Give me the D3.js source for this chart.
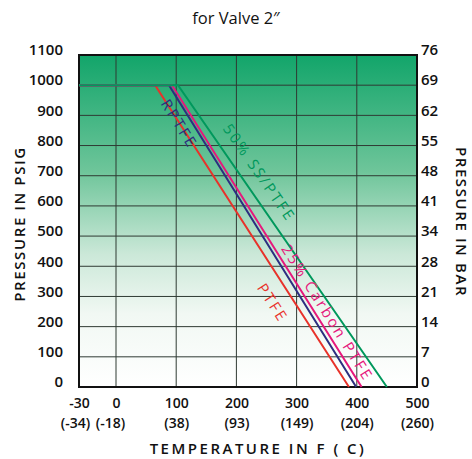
<!DOCTYPE html>
<html>
<head>
<meta charset="utf-8">
<script src="https://cdn.jsdelivr.net/npm/d3@7"></script>
<style>
  body { margin: 0; background: #fff; }
  svg { display: block; font-family: "Open Sans", sans-serif; }
</style>
</head>
<body>
<svg id="chart" width="472" height="459"></svg>
<script>
// temperature ticks (F) and their celsius labels
const tempTicks = [-30, 0, 100, 200, 300, 400, 500];
const celsiusLabels = ["(-34)", "(-18)", "(38)", "(93)", "(149)", "(204)", "(260)"];

// pressure ticks (psig) and matching bar labels
const psigTicks = [0, 100, 200, 300, 400, 500, 600, 700, 800, 900, 1000, 1100];
const barLabels = ["0", "7", "14", "21", "28", "34", "41", "48", "55", "62", "69", "76"];

// seat ratings: [temperature F, pressure psig]
const ptfe = [[-30, 1000], [65, 1000], [387, 0]];
const rptfe = [[-30, 1000], [88, 1000], [399, 0]];
const carbonPtfe = [[-30, 1000], [93, 1000], [408, 0]];
const ssPtfe = [[-30, 1000], [103, 1000], [450, 0]];

// series names and where their labels sit (temperature, pressure)
const seriesNames = ["PTFE", "RPTFE", "25% Carbon PTFE", "50% SS/PTFE"];
const labelAt = [[261, 280], [106, 873], [352, 247], [239, 711]];

const svg = d3.select("#chart");
const W = 472, H = 459;
const margin = { top: 55, right: 55, bottom: 72, left: 79 };

// x is piecewise: the -30 column is squeezed
const x = d3.scaleLinear().domain([-30, 0, 500]).range([margin.left, 116, W - margin.right]);
const y = d3.scaleLinear().domain([0, 1100]).range([H - margin.bottom, margin.top]);
// the printed pressure labels sit a few pixels above their grid lines
const yLab = d3.scaleLinear().domain([0, 1100]).range([382, 50]);

// background gradient
const grad = svg.append("defs").append("linearGradient")
  .attr("id", "bg").attr("x1", 0).attr("y1", 0).attr("x2", 0).attr("y2", 1);
grad.append("stop").attr("offset", "0%").attr("stop-color", "#12a56a");
grad.append("stop").attr("offset", "35%").attr("stop-color", "#6ec59a");
grad.append("stop").attr("offset", "60%").attr("stop-color", "#cbe8d8");
grad.append("stop").attr("offset", "78%").attr("stop-color", "#f1f8f3");
grad.append("stop").attr("offset", "100%").attr("stop-color", "#ffffff");

svg.append("rect")
  .attr("x", x(-30)).attr("y", y(1100))
  .attr("width", x(500) - x(-30)).attr("height", y(0) - y(1100))
  .attr("fill", "url(#bg)");

// grid
const grid = svg.append("g").attr("stroke", "#2f3a33").attr("stroke-width", 1);
grid.selectAll(".h").data(psigTicks.slice(1, -1)).enter().append("line")
  .attr("x1", x(-30)).attr("x2", x(500))
  .attr("y1", d => y(d)).attr("y2", d => y(d));
grid.selectAll(".v").data(tempTicks.slice(1, -1)).enter().append("line")
  .attr("y1", y(0)).attr("y2", y(1100))
  .attr("x1", d => x(d)).attr("x2", d => x(d));

// frame
svg.append("rect")
  .attr("x", x(-30)).attr("y", y(1100))
  .attr("width", x(500) - x(-30)).attr("height", y(0) - y(1100))
  .attr("fill", "none").attr("stroke", "#111").attr("stroke-width", 2);

// lines
const colors = ["#e8322a", "#2c2f80", "#e6187c", "#00985c"];
const series = [ptfe, rptfe, carbonPtfe, ssPtfe];
const line = d3.line().x(d => x(d[0])).y(d => y(d[1]));
svg.append("g").selectAll("path").data(series).enter().append("path")
  .attr("d", line).attr("fill", "none")
  .attr("stroke", (d, i) => colors[i]).attr("stroke-width", 2);

// labels rotated along each line's slope
seriesNames.forEach((name, i) => {
  const s = series[i];
  const ang = Math.atan2(y(s[2][1]) - y(s[1][1]), x(s[2][0]) - x(s[1][0])) * 180 / Math.PI;
  const px = x(labelAt[i][0]), py = y(labelAt[i][1]);
  svg.append("text")
    .attr("transform", `translate(${px},${py}) rotate(${ang})`)
    .attr("text-anchor", "middle").attr("dominant-baseline", "central")
    .attr("fill", colors[i]).attr("font-size", 15).attr("letter-spacing", 2.4)
    .text(name);
});

const tickFont = sel => sel.attr("font-size", 15).attr("font-weight", 600)
  .attr("font-family", "Open Sans, sans-serif").attr("fill", "#111");

// left axis
const yAxis = svg.append("g").attr("transform", `translate(${x(-30) - 10},0)`)
  .call(d3.axisLeft(yLab).tickValues(psigTicks).tickSize(0).tickPadding(6)
    .tickFormat(d => String(d)));
yAxis.select(".domain").remove();
yAxis.selectAll("text").call(tickFont);

// right axis in bar
const yAxisR = svg.append("g").attr("transform", `translate(${x(500)},0)`)
  .call(d3.axisRight(yLab).tickValues(psigTicks).tickSize(0).tickPadding(4)
    .tickFormat((d, i) => barLabels[i]));
yAxisR.select(".domain").remove();
yAxisR.selectAll("text").call(tickFont);

// bottom axis, fahrenheit and celsius rows
const xAxis = svg.append("g").attr("transform", `translate(0,${y(0)})`)
  .call(d3.axisBottom(x).tickValues(tempTicks).tickSize(0).tickPadding(11)
    .tickFormat(d => String(d)));
xAxis.select(".domain").remove();
xAxis.selectAll("text").call(tickFont).attr("font-size", 14);
xAxis.selectAll(".tick").append("text")
  .attr("y", 41).attr("dx", (d, i) => i === 0 ? -4 : (i === 1 ? -6 : 0))
  .attr("text-anchor", "middle")
  .call(tickFont).attr("font-size", 14)
  .text((d, i) => celsiusLabels[i]);

// titles
svg.append("text").attr("x", 236).attr("y", 24).attr("text-anchor", "middle")
  .attr("font-size", 16.5).attr("fill", "#111").text("for Valve 2\u2033");

svg.append("text").attr("x", 258).attr("y", 454).attr("text-anchor", "middle")
  .attr("font-size", 15).attr("font-weight", 600).attr("letter-spacing", 2.5)
  .attr("fill", "#111").text("TEMPERATURE IN  F ( C)");

svg.append("text").attr("transform", "translate(25,224) rotate(-90)")
  .attr("text-anchor", "middle")
  .attr("font-size", 15).attr("font-weight", 600).attr("letter-spacing", 1.6)
  .attr("fill", "#111").text("PRESSURE IN PSIG");

svg.append("text").attr("transform", "translate(456,222) rotate(90)")
  .attr("text-anchor", "middle")
  .attr("font-size", 15).attr("font-weight", 600).attr("letter-spacing", 1.6)
  .attr("fill", "#111").text("PRESSURE IN BAR");
</script>
</body>
</html>
